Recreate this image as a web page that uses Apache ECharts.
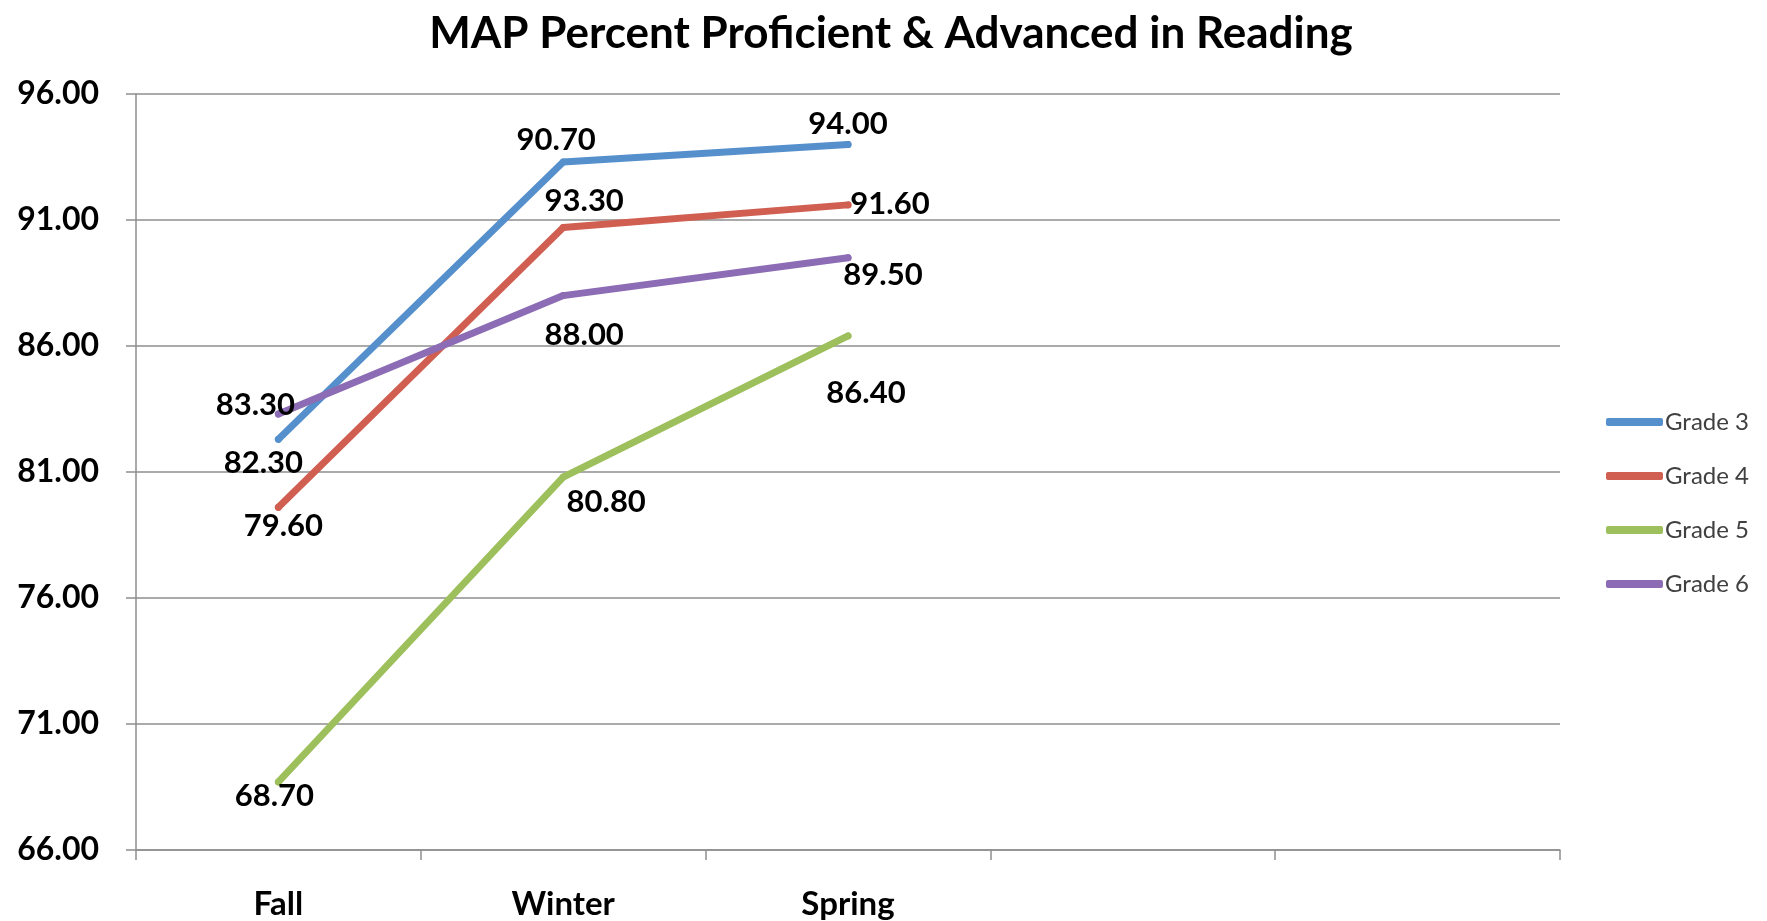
<!DOCTYPE html>
<html>
<head>
<meta charset="utf-8">
<script src="https://cdn.jsdelivr.net/npm/echarts@6/dist/echarts.min.js"></script>
<style>
  html, body { margin: 0; padding: 0; background: #ffffff; }
  #chart { width: 1767px; height: 921px; }
</style>
</head>
<body>
<div id="chart"></div>
<script>
// ---- data ----
const categories = ['Fall', 'Winter', 'Spring', '', ''];
const seriesNames = ['Grade 3', 'Grade 4', 'Grade 5', 'Grade 6'];
const grade3 = [82.3, 93.3, 94.0];
const grade4 = [79.6, 90.7, 91.6];
const grade5 = [68.7, 80.8, 86.4];
const grade6 = [83.3, 88.0, 89.5];
// data label texts as printed on the chart
const grade3Labels = ['82.30', '90.70', '94.00'];
const grade4Labels = ['79.60', '93.30', '91.60'];
const grade5Labels = ['68.70', '80.80', '86.40'];
const grade6Labels = ['83.30', '88.00', '89.50'];
const yMin = 66, yMax = 96, yStep = 5;
const titleText = 'MAP Percent Proficient & Advanced in Reading';

// ---- styles / layout ----
const colors = ['#5590cc', '#d05f52', '#9dc05c', '#8c6cb4'];
const labelOffsets = [
  [[-15, 24], [-7, -22], [0, -20]],
  [[5, 19], [21, -27], [42, -1]],
  [[-4, 14], [43, 25], [18, 57]],
  [[-23, -9], [21, 39], [35, 17]]
];
const FONT = 'Lato';
const gridColor = '#8e8e8e';

const values = [grade3, grade4, grade5, grade6];
const labels = [grade3Labels, grade4Labels, grade5Labels, grade6Labels];

const series = values.map((vals, si) => ({
  name: seriesNames[si],
  type: 'line',
  data: vals.map((v, i) => ({
    value: v,
    label: {
      show: true,
      position: 'inside',
      offset: labelOffsets[si][i],
      formatter: labels[si][i],
      color: '#000',
      fontFamily: FONT,
      fontWeight: 'bold',
      fontSize: 31
    }
  })),
  symbol: 'circle',
  symbolSize: 7,
  showSymbol: true,
  itemStyle: { color: colors[si] },
  lineStyle: { color: colors[si], width: 7, cap: 'round', join: 'round' },
  emphasis: { disabled: true },
  animation: false,
  z: 2
}));

const chart = echarts.init(document.getElementById('chart'), null, { renderer: 'canvas' });
chart.setOption({
  backgroundColor: '#ffffff',
  animation: false,
  title: {
    text: titleText,
    left: 886,
    top: 7,
    textAlign: 'center',
    textStyle: { fontFamily: FONT, fontWeight: 'bold', fontSize: 44, color: '#000' }
  },
  legend: {
    orient: 'vertical',
    left: 1606,
    top: 410,
    padding: 0,
    icon: 'roundRect',
    itemWidth: 57,
    itemHeight: 8,
    itemGap: 30,
    data: seriesNames,
    textStyle: { fontFamily: FONT, fontSize: 24, color: '#404040', lineHeight: 24, padding: [0, 0, 0, -3] }
  },
  grid: { left: 136, right: 207, top: 94, bottom: 71, containLabel: false },
  xAxis: {
    type: 'category',
    data: categories,
    boundaryGap: true,
    axisLine: { show: true, lineStyle: { color: gridColor, width: 1.5 } },
    axisTick: { show: true, alignWithLabel: false, length: 10, lineStyle: { color: gridColor, width: 1.5 } },
    axisLabel: { margin: 38, fontFamily: FONT, fontWeight: 'bold', fontSize: 33, color: '#000' },
    splitLine: { show: false }
  },
  yAxis: {
    type: 'value',
    min: yMin,
    max: yMax,
    interval: yStep,
    axisLine: { show: true, lineStyle: { color: gridColor, width: 1.5 } },
    axisTick: { show: true, length: 10, lineStyle: { color: gridColor, width: 1.5 } },
    axisLabel: {
      margin: 37,
      fontFamily: FONT,
      fontWeight: 'bold',
      fontSize: 32,
      color: '#000',
      padding: [10, 0, 0, 0],
      formatter: v => v.toFixed(2)
    },
    splitLine: { show: true, lineStyle: { color: gridColor, width: 1.5 } }
  },
  series: series
});
</script>
</body>
</html>
